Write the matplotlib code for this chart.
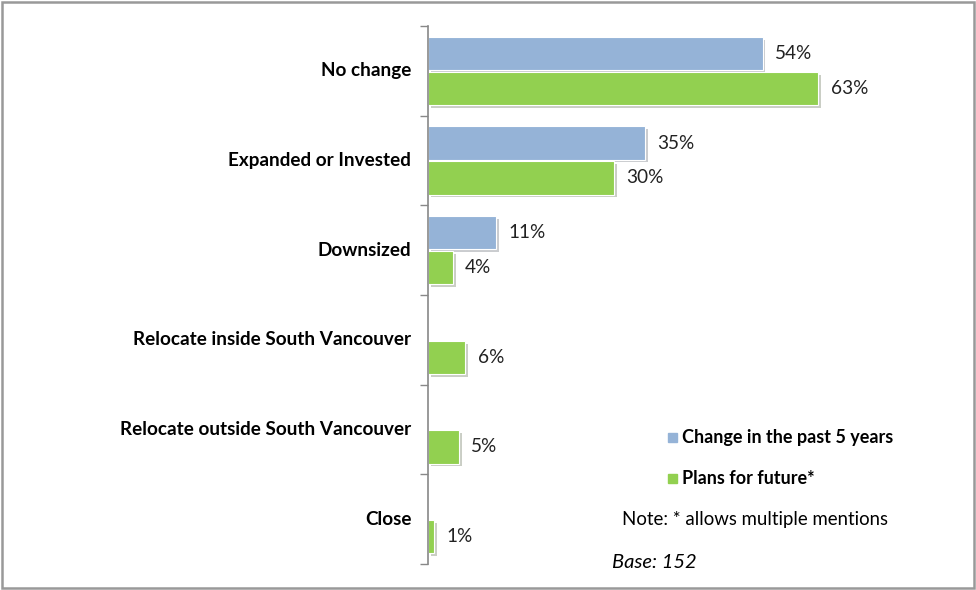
import matplotlib.pyplot as plt
import matplotlib.patheffects as pe
import numpy as np

categories = ["No change", "Expanded or Invested", "Downsized",
              "Relocate inside South Vancouver", "Relocate outside South Vancouver", "Close"]
past = [54, 35, 11, None, None, None]
future = [63, 30, 4, 6, 5, 1]
series_names = ["Change in the past 5 years", "Plans for future*"]
blue = "#95b3d7"
green = "#92d050"

plt.rcParams['font.family'] = ['Lato', 'DejaVu Sans']

fig = plt.figure(figsize=(9.76, 5.9), dpi=100)
ax = fig.add_axes([428 / 976, 1 - 564 / 590, 0.4445, 538 / 590])

y = np.arange(len(categories))
h = 0.37
shadow = [pe.SimplePatchShadow(offset=(2, -2), alpha=0.25), pe.Normal()]

for i, v in enumerate(past):
    if v is None:
        continue
    b = ax.barh(y[i] - h / 2 - 0.01, v, height=h, color=blue, edgecolor="white", linewidth=0.8)
    b[0].set_path_effects(shadow)
    ax.text(v + 2.0, y[i] - h / 2 - 0.01, f"{v}%", va="center", ha="left", fontsize=13.7, color="#222222")
for i, v in enumerate(future):
    b = ax.barh(y[i] + h / 2 + 0.01, v, height=h, color=green, edgecolor="white", linewidth=0.8)
    b[0].set_path_effects(shadow)
    ax.text(v + 2.0, y[i] + h / 2 + 0.01, f"{v}%", va="center", ha="left", fontsize=13.7, color="#222222")

ax.set_xlim(0, 70)
ax.set_ylim(len(categories) - 0.5, -0.5)
ax.set_yticks(y)
ax.set_yticklabels(categories, fontsize=13.6, fontweight="bold")
ax.tick_params(axis="y", which="major", length=0, pad=12)
ax.set_yticks(np.arange(-0.5, len(categories)), minor=True)
ax.tick_params(axis="y", which="minor", length=6, color="#888888", width=1)
for lbl in ax.get_yticklabels():
    lbl.set_verticalalignment("center")
ax.set_xticks([])
for s in ["top", "right", "bottom"]:
    ax.spines[s].set_visible(False)
ax.spines["left"].set_color("#888888")
ax.spines["left"].set_linewidth(1.2)

# legend and notes
fig.patches.append(plt.Rectangle((668 / 976, 1 - 442 / 590), 9 / 976, 9 / 590,
                                 transform=fig.transFigure, color=blue))
fig.patches.append(plt.Rectangle((668 / 976, 1 - 483 / 590), 9 / 976, 9 / 590,
                                 transform=fig.transFigure, color=green))
fig.text(682 / 976, 1 - 437 / 590, series_names[0], fontsize=13, fontweight="bold", va="center")
fig.text(682 / 976, 1 - 478 / 590, series_names[1], fontsize=13, fontweight="bold", va="center")
fig.text(622 / 976, 1 - 519 / 590, "Note: * allows multiple mentions", fontsize=13.4, va="center")
fig.text(612 / 976, 1 - 562 / 590, "Base: 152", fontsize=14.5, style="italic", va="center")

# outer frame
fig.patches.append(plt.Rectangle((0.002, 0.003), 0.996, 0.994, transform=fig.transFigure,
                                 fill=False, edgecolor="#999999", linewidth=1.8))

fig.savefig("out.png", dpi=100)
